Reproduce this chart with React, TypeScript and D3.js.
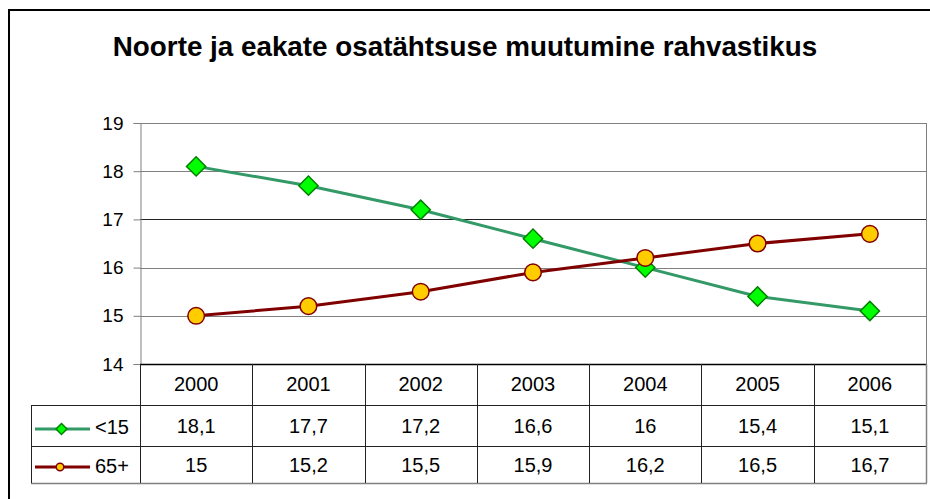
import React, { useRef, useEffect } from 'react';
import * as d3 from 'd3';

const years = ['2000', '2001', '2002', '2003', '2004', '2005', '2006'];
const young = [18.1, 17.7, 17.2, 16.6, 16, 15.4, 15.1];
const old = [15, 15.2, 15.5, 15.9, 16.2, 16.5, 16.7];
const seriesNames = ['<15', '65+'];
const yTicks = [14, 15, 16, 17, 18, 19];

const fmt = (v: number) => String(v).replace('.', ',');

const App = () => {
  const ref = useRef<SVGSVGElement>(null);

  useEffect(() => {
    const svg = d3.select(ref.current);
    svg.selectAll('*').remove();
    const font = 'Liberation Sans, Arial, sans-serif';

    // outer frame (runs off the right and bottom)
    svg.append('rect').attr('x', 9).attr('y', 10).attr('width', 940).attr('height', 520)
      .attr('fill', 'white').attr('stroke', '#000').attr('stroke-width', 2);

    svg.append('text').attr('x', 465).attr('y', 56).attr('text-anchor', 'middle')
      .attr('font-family', font).attr('font-weight', 'bold').attr('font-size', 27.8)
      .text('Noorte ja eakate osatähtsuse muutumine rahvastikus');

    const left = 140, right = 926, top = 123, bottom = 364;
    const x = d3.scaleBand().domain(years).range([left, right]);
    const y = d3.scaleLinear().domain([14, 19]).range([bottom, top]);
    const cx = (i: number) => (x(years[i]) as number) + x.bandwidth() / 2;

    // gridlines
    svg.append('g').selectAll('line').data(yTicks.slice(1)).join('line')
      .attr('x1', left).attr('x2', right)
      .attr('y1', d => Math.round(y(d)) + 0.5).attr('y2', d => Math.round(y(d)) + 0.5)
      .attr('stroke', d => (d === 17 ? '#222' : '#808080')).attr('stroke-width', 1);
    svg.append('line').attr('x1', right + 0.5).attr('x2', right + 0.5).attr('y1', top).attr('y2', bottom)
      .attr('stroke', '#808080');

    // y axis
    const yAxis = svg.append('g').attr('transform', `translate(${left + 0.5},0)`)
      .call(d3.axisLeft(y).tickValues(yTicks).tickSize(7).tickPadding(10).tickFormat(d => String(d)));
    yAxis.select('.domain').attr('stroke', '#808080');
    yAxis.selectAll('.tick line').attr('stroke', '#808080');
    yAxis.selectAll('.tick text').attr('font-family', font).attr('font-size', 19).attr('fill', '#000');

    // lines
    const line = d3.line<number>().x((_, i) => cx(i)).y(d => y(d));
    svg.append('path').datum(young).attr('fill', 'none').attr('stroke', '#339966')
      .attr('stroke-width', 3).attr('d', line);
    svg.append('path').datum(old).attr('fill', 'none').attr('stroke', '#800000')
      .attr('stroke-width', 3).attr('d', line);

    const drawDiamond = (g: any, px: number, py: number, size: number) =>
      g.append('path').attr('d', d3.symbol().type(d3.symbolSquare).size(size)())
        .attr('transform', `translate(${px},${py}) rotate(45)`)
        .attr('fill', '#00ff00').attr('stroke', '#008000').attr('stroke-width', 1.5);
    const drawCircle = (g: any, px: number, py: number, r: number) =>
      g.append('circle').attr('cx', px).attr('cy', py).attr('r', r)
        .attr('fill', '#ffcc00').attr('stroke', '#800000').attr('stroke-width', 1.5);

    const marks = svg.append('g');
    young.forEach((v, i) => drawDiamond(marks, cx(i), y(v), 185));
    old.forEach((v, i) => drawCircle(marks, cx(i), y(v), 8.3));

    // data table
    const rows = [405, 446, 483];
    const tl = 31;
    const t = svg.append('g');
    t.append('line').attr('x1', left).attr('x2', right).attr('y1', bottom + 0.5).attr('y2', bottom + 0.5)
      .attr('stroke', '#000').attr('stroke-width', 1.5);
    t.append('line').attr('x1', tl).attr('x2', right).attr('y1', rows[0] + 0.5).attr('y2', rows[0] + 0.5)
      .attr('stroke', '#222');
    t.append('line').attr('x1', tl).attr('x2', right).attr('y1', rows[1] + 0.5).attr('y2', rows[1] + 0.5)
      .attr('stroke', '#222');
    t.append('line').attr('x1', tl).attr('x2', right + 1).attr('y1', rows[2] + 0.5).attr('y2', rows[2] + 0.5)
      .attr('stroke', '#808080').attr('stroke-width', 1.5);
    t.append('line').attr('x1', tl + 0.5).attr('x2', tl + 0.5).attr('y1', rows[0]).attr('y2', rows[2])
      .attr('stroke', '#222');
    years.forEach(yr => {
      const xx = Math.round(x(yr) as number) + 0.5;
      t.append('line').attr('x1', xx).attr('x2', xx).attr('y1', bottom).attr('y2', rows[2])
        .attr('stroke', '#222');
    });
    t.append('line').attr('x1', right + 0.5).attr('x2', right + 0.5).attr('y1', bottom).attr('y2', rows[2])
      .attr('stroke', '#808080').attr('stroke-width', 1.5);

    const txt = (s: string, px: number, py: number, anchor = 'middle') =>
      t.append('text').attr('x', px).attr('y', py).attr('text-anchor', anchor)
        .attr('font-family', font).attr('font-size', 20).attr('fill', '#000').text(s);

    years.forEach((yr, i) => {
      txt(yr, cx(i), 391);
      txt(fmt(young[i]), cx(i), 433);
      txt(fmt(old[i]), cx(i), 472);
    });

    // legend keys
    t.append('line').attr('x1', 35).attr('x2', 90).attr('y1', 429).attr('y2', 429)
      .attr('stroke', '#339966').attr('stroke-width', 3);
    drawDiamond(t, 61.5, 429, 60);
    t.append('line').attr('x1', 35).attr('x2', 90).attr('y1', 467).attr('y2', 467)
      .attr('stroke', '#800000').attr('stroke-width', 3);
    drawCircle(t, 60, 467, 3.8);
    txt(seriesNames[0], 95, 434, 'start');
    txt(seriesNames[1], 95, 472.5, 'start');
  }, []);

  return (
    <div style={{ position: 'absolute', left: 0, top: 0 }}>
      <svg ref={ref} width={930} height={499} style={{ display: 'block' }}></svg>
    </div>
  );
};

export default App;
